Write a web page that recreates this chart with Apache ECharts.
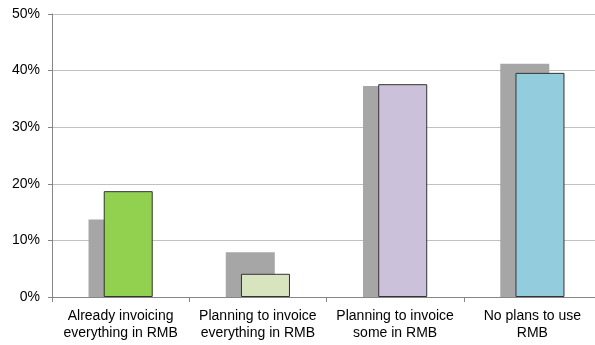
<!DOCTYPE html>
<html>
<head>
<meta charset="utf-8">
<script src="https://cdn.jsdelivr.net/npm/echarts@6/dist/echarts.min.js"></script>
<style>
  html, body { margin: 0; padding: 0; background: #fff; }
  #chart { width: 595px; height: 345px; }
</style>
</head>
<body>
<div id="chart"></div>
<script>
// Survey categories (x axis)
const categories = [
  'Already invoicing\neverything in RMB',
  'Planning to invoice\neverything in RMB',
  'Planning to invoice\nsome in RMB',
  'No plans to use\nRMB'
];

// Earlier survey (grey, behind) and current survey (coloured, front), in %
const previousValues = [13.7, 7.9, 37.3, 41.2];
const currentValues = [18.7, 4.1, 37.6, 39.6];

// Fill colour of each front bar
const currentColors = ['#92D050', '#D7E4BD', '#CCC1DA', '#93CDDD'];

// Y axis range and step, in %
const yMin = 0;
const yMax = 50;
const yStep = 10;

const chart = echarts.init(document.getElementById('chart'), null, { renderer: 'canvas' });

const font = '"Liberation Sans", Arial, sans-serif';

chart.setOption({
  animation: false,
  backgroundColor: '#ffffff',
  grid: {
    left: 52, right: -6, top: 14, bottom: 48,
    containLabel: false,
    outerBoundsMode: 'none'
  },
  xAxis: {
    type: 'category',
    data: categories,
    axisLine: { show: true, lineStyle: { color: '#868686', width: 1 } },
    axisTick: { show: true, length: 5, lineStyle: { color: '#868686' } },
    axisLabel: {
      color: '#000000',
      fontFamily: font,
      fontSize: 14,
      lineHeight: 17,
      margin: 11,
      interval: 0
    },
    splitLine: { show: false }
  },
  yAxis: {
    type: 'value',
    min: yMin,
    max: yMax,
    interval: yStep,
    axisLine: { show: true, lineStyle: { color: '#868686', width: 1 } },
    axisTick: { show: true, length: 4, lineStyle: { color: '#868686' } },
    axisLabel: {
      color: '#000000',
      fontFamily: font,
      fontSize: 14,
      margin: 12,
      formatter: v => v + '%'
    },
    splitLine: { show: true, lineStyle: { color: '#C0C0C0', width: 1 } }
  },
  series: [
    {
      name: 'Previous',
      type: 'bar',
      data: previousValues,
      barWidth: 49,
      barGap: '-69%',
      itemStyle: { color: '#A6A6A6' },
      z: 2
    },
    {
      name: 'Current',
      type: 'bar',
      data: currentValues.map((v, i) => ({
        value: v,
        itemStyle: { color: currentColors[i] }
      })),
      barWidth: 49,
      itemStyle: { borderColor: '#333333', borderWidth: 1 },
      z: 3
    }
  ]
});
</script>
</body>
</html>
